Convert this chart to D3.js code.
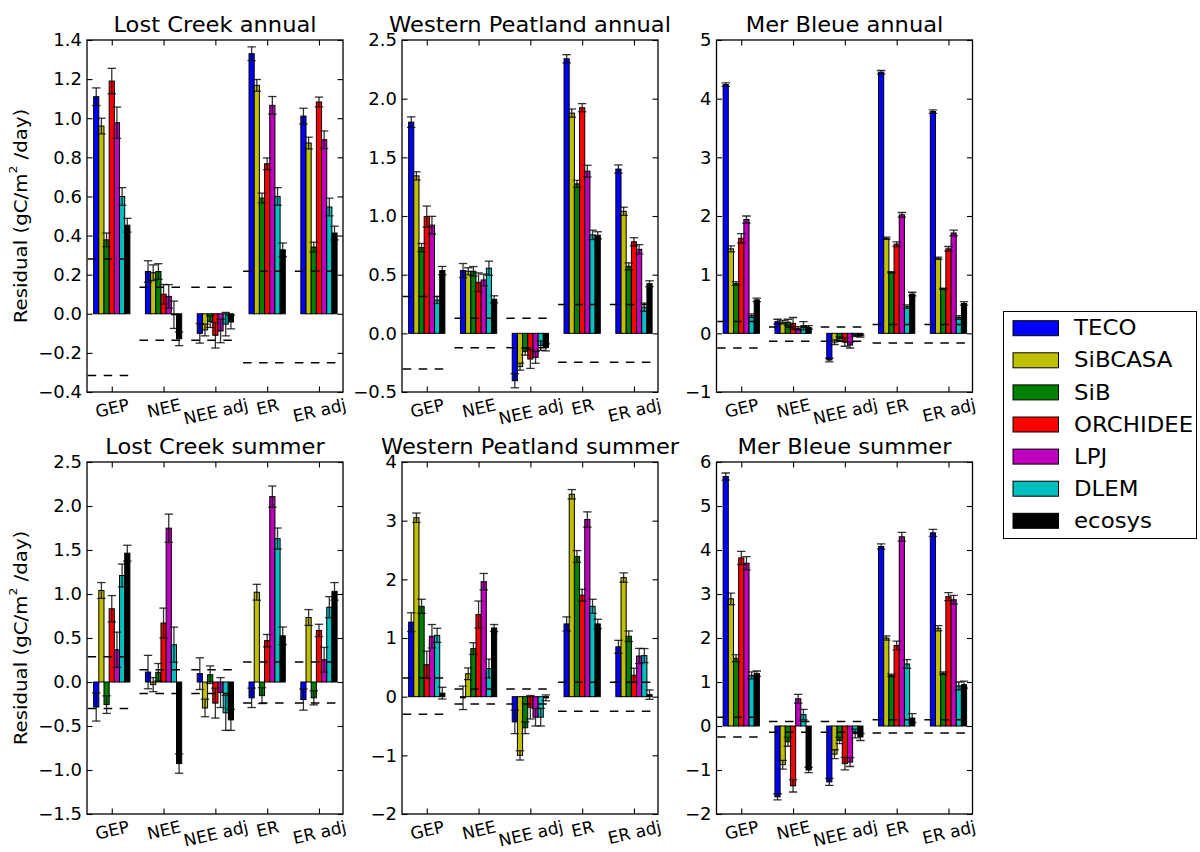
<!DOCTYPE html>
<html><head><meta charset="utf-8">
<script src="https://cdn.jsdelivr.net/npm/d3@7"></script>
<style>
body{margin:0;background:#fff}
svg{display:block}
text{font-family:"DejaVu Sans",sans-serif;fill:#000}
</style>
</head><body>
<svg id="c" width="1200" height="852"></svg>
<script>
// ---------- data ----------
const categories = ["GEP", "NEE", "NEE adj", "ER", "ER adj"];
const models = ["TECO", "SiBCASA", "SiB", "ORCHIDEE", "LPJ", "DLEM", "ecosys"];
const modelColors = ["#0000ff", "#bfbf00", "#008000", "#ff0000", "#bf00bf", "#00bfbf", "#000000"];
const panelTitles = ["Lost Creek annual", "Western Peatland annual", "Mer Bleue annual",
                     "Lost Creek summer", "Western Peatland summer", "Mer Bleue summer"];
const yLabelText = ["Residual (gC/m", "2", " /day)"];

// rows = models, columns = categories
const lcAnnualVals = [
  [1.11, 0.216, -0.100, 1.330, 1.011],
  [0.96, 0.210, -0.083, 1.168, 0.873],
  [0.378, 0.216, -0.040, 0.592, 0.341],
  [1.19, 0.100, -0.110, 0.767, 1.083],
  [0.977, 0.089, -0.088, 1.066, 0.890],
  [0.600, -0.005, -0.053, 0.600, 0.546],
  [0.453, -0.128, -0.042, 0.327, 0.413]
];
const lcAnnualErr = [
  [0.045, 0.055, 0.050, 0.035, 0.040],
  [0.040, 0.040, 0.030, 0.030, 0.030],
  [0.035, 0.040, 0.030, 0.025, 0.025],
  [0.065, 0.050, 0.065, 0.030, 0.025],
  [0.080, 0.060, 0.060, 0.045, 0.045],
  [0.045, 0.070, 0.060, 0.045, 0.045],
  [0.035, 0.035, 0.035, 0.035, 0.035]
];
const lcAnnualBands = [[0.280, -0.315], [0.136, -0.136], [0.136, -0.136], [0.218, -0.250], [0.218, -0.250]];
const lcAnnualTicks = ["\u22120.4", "\u22120.2", "0.0", "0.2", "0.4", "0.6", "0.8", "1.0", "1.2", "1.4"];

const wpAnnualVals = [
  [1.800, 0.535, -0.404, 2.340, 1.400],
  [1.342, 0.529, -0.284, 1.877, 1.040],
  [0.731, 0.529, -0.156, 1.274, 0.571],
  [0.995, 0.435, -0.219, 1.923, 0.780],
  [0.922, 0.455, -0.205, 1.382, 0.716],
  [0.284, 0.555, -0.105, 0.839, 0.223],
  [0.535, 0.290, -0.120, 0.836, 0.423]
];
const wpAnnualErr = [
  [0.045, 0.060, 0.060, 0.035, 0.035],
  [0.035, 0.030, 0.030, 0.035, 0.035],
  [0.035, 0.040, 0.030, 0.030, 0.030],
  [0.090, 0.080, 0.080, 0.035, 0.035],
  [0.075, 0.050, 0.050, 0.050, 0.040],
  [0.030, 0.060, 0.040, 0.040, 0.035],
  [0.035, 0.030, 0.030, 0.030, 0.025]
];
const wpAnnualBands = [[0.313, -0.304], [0.128, -0.122], [0.128, -0.122], [0.245, -0.247], [0.245, -0.247]];
const wpAnnualTicks = ["\u22120.5", "0.0", "0.5", "1.0", "1.5", "2.0", "2.5"];

const mbAnnualVals = [
  [4.24, 0.20, -0.455, 4.45, 3.78],
  [1.44, 0.19, -0.150, 1.62, 1.28],
  [0.85, 0.19, -0.090, 1.04, 0.76],
  [1.62, 0.17, -0.150, 1.52, 1.44],
  [1.94, 0.085, -0.200, 2.02, 1.71],
  [0.30, 0.13, -0.035, 0.455, 0.27],
  [0.57, 0.10, -0.045, 0.67, 0.51]
];
const mbAnnualErr = [
  [0.03, 0.04, 0.03, 0.03, 0.03],
  [0.05, 0.03, 0.04, 0.02, 0.02],
  [0.03, 0.05, 0.03, 0.01, 0.01],
  [0.08, 0.10, 0.07, 0.04, 0.04],
  [0.06, 0.03, 0.05, 0.04, 0.05],
  [0.03, 0.07, 0.02, 0.03, 0.03],
  [0.03, 0.03, 0.02, 0.03, 0.03]
];
const mbAnnualBands = [[0.20, -0.25], [0.11, -0.135], [0.11, -0.135], [0.15, -0.165], [0.15, -0.165]];
const mbAnnualTicks = ["\u22121", "0", "1", "2", "3", "4", "5"];

const lcSummerVals = [
  [-0.284, 0.113, 0.095, -0.180, -0.200],
  [1.040, -0.030, -0.295, 1.020, 0.733],
  [-0.257, 0.110, 0.083, -0.155, -0.180],
  [0.832, 0.670, -0.240, 0.470, 0.586],
  [0.367, 1.748, -0.120, 2.107, 0.253],
  [1.210, 0.424, -0.350, 1.630, 0.850],
  [1.464, -0.927, -0.430, 0.525, 1.030]
];
const lcSummerErr = [
  [0.16, 0.19, 0.18, 0.11, 0.12],
  [0.09, 0.08, 0.10, 0.09, 0.09],
  [0.10, 0.10, 0.10, 0.09, 0.08],
  [0.15, 0.17, 0.17, 0.07, 0.07],
  [0.20, 0.16, 0.17, 0.12, 0.14],
  [0.13, 0.20, 0.20, 0.12, 0.12],
  [0.09, 0.11, 0.12, 0.10, 0.10]
];
const lcSummerBands = [[0.287, -0.30], [0.14, -0.13], [0.14, -0.13], [0.227, -0.24], [0.227, -0.24]];
const lcSummerTicks = ["\u22121.5", "\u22121.0", "\u22120.5", "0.0", "0.5", "1.0", "1.5", "2.0", "2.5"];

const wpSummerVals = [
  [1.270, -0.020, -0.430, 1.240, 0.850],
  [3.050, 0.390, -1.000, 3.450, 2.030],
  [1.540, 0.820, -0.530, 2.390, 1.030],
  [0.545, 1.400, -0.180, 1.730, 0.365],
  [1.030, 1.960, -0.350, 3.020, 0.693],
  [1.045, 0.480, -0.350, 1.540, 0.700],
  [0.060, 1.170, -0.020, 1.240, 0.035]
];
const wpSummerErr = [
  [0.16, 0.20, 0.20, 0.12, 0.11],
  [0.08, 0.10, 0.08, 0.08, 0.08],
  [0.12, 0.10, 0.10, 0.10, 0.09],
  [0.23, 0.23, 0.20, 0.10, 0.12],
  [0.20, 0.14, 0.15, 0.13, 0.13],
  [0.12, 0.16, 0.15, 0.12, 0.12],
  [0.10, 0.06, 0.05, 0.08, 0.08]
];
const wpSummerBands = [[0.32, -0.30], [0.13, -0.125], [0.13, -0.125], [0.245, -0.25], [0.245, -0.25]];
const wpSummerTicks = ["\u22122", "\u22121", "0", "1", "2", "3", "4"];

const mbSummerVals = [
  [5.67, -1.61, -1.270, 4.08, 4.39],
  [2.89, -0.88, -0.640, 2.00, 2.22],
  [1.54, -0.36, -0.330, 1.15, 1.20],
  [3.82, -1.36, -0.855, 1.83, 2.94],
  [3.70, 0.62, -0.820, 4.30, 2.87],
  [1.15, 0.26, -0.170, 1.41, 0.91],
  [1.19, -1.00, -0.250, 0.18, 0.94]
];
const mbSummerErr = [
  [0.08, 0.07, 0.08, 0.06, 0.08],
  [0.13, 0.10, 0.10, 0.05, 0.06],
  [0.08, 0.10, 0.07, 0.03, 0.03],
  [0.15, 0.14, 0.14, 0.10, 0.09],
  [0.15, 0.10, 0.10, 0.10, 0.10],
  [0.08, 0.12, 0.10, 0.10, 0.09],
  [0.06, 0.06, 0.08, 0.10, 0.08]
];
const mbSummerBands = [[0.20, -0.25], [0.105, -0.14], [0.105, -0.14], [0.14, -0.16], [0.14, -0.16]];
const mbSummerTicks = ["\u22122", "\u22121", "0", "1", "2", "3", "4", "5", "6"];

// ---------- layout ----------
const panels = [
  {title: panelTitles[0], vals: lcAnnualVals, errs: lcAnnualErr, bands: lcAnnualBands, ticks: lcAnnualTicks, col: 0, row: 0},
  {title: panelTitles[1], vals: wpAnnualVals, errs: wpAnnualErr, bands: wpAnnualBands, ticks: wpAnnualTicks, col: 1, row: 0},
  {title: panelTitles[2], vals: mbAnnualVals, errs: mbAnnualErr, bands: mbAnnualBands, ticks: mbAnnualTicks, col: 2, row: 0},
  {title: panelTitles[3], vals: lcSummerVals, errs: lcSummerErr, bands: lcSummerBands, ticks: lcSummerTicks, col: 0, row: 1},
  {title: panelTitles[4], vals: wpSummerVals, errs: wpSummerErr, bands: wpSummerBands, ticks: wpSummerTicks, col: 1, row: 1},
  {title: panelTitles[5], vals: mbSummerVals, errs: mbSummerErr, bands: mbSummerBands, ticks: mbSummerTicks, col: 2, row: 1}
];

const PW = 256, PH = 352;
const lefts = [87, 402, 716.5], tops = [40, 462];
const BW = 0.1, DASH_L = -0.465, DASH_R = 0.41;
const TICK = 5.5, CAP = 4.2;
const ROT = 13;
const SX = {title: 1.075, tick: 1.06, xlab: 1.0, ylab: 1.13, legend: 1.09};

const svg = d3.select("#c");
svg.append("rect").attr("width", 1200).attr("height", 852).attr("fill", "#fff");

panels.forEach((p, pi) => {
  const L = lefts[p.col], T = tops[p.row];
  const tickVals = p.ticks.map(t => +t.replace("\u2212", "-"));
  const y = d3.scaleLinear().domain([tickVals[0], tickVals[tickVals.length - 1]]).range([T + PH, T]);
  const x = d3.scaleLinear().domain([-0.478, 4.464]).range([L, L + PW]);
  const g = svg.append("g");

  const clipId = "clip" + pi;
  svg.append("clipPath").attr("id", clipId).append("rect")
    .attr("x", L).attr("y", T).attr("width", PW).attr("height", PH);

  const items = [];
  models.forEach((m, j) => categories.forEach((c, i) => {
    items.push({i, j, v: p.vals[j][i], e: p.errs[j][i]});
  }));

  const plot = g.append("g").attr("clip-path", `url(#${clipId})`);
  // bars
  plot.selectAll("rect.bar").data(items).join("rect").attr("class", "bar")
    .attr("x", d => x(d.i + (d.j - 3.5) * BW))
    .attr("width", x(BW) - x(0))
    .attr("y", d => y(Math.max(d.v, 0)))
    .attr("height", d => Math.abs(y(d.v) - y(0)))
    .attr("fill", d => modelColors[d.j])
    .attr("stroke", "#000").attr("stroke-width", 1);

  // error bars
  const eb = plot.selectAll("g.eb").data(items).join("g").attr("class", "eb")
    .attr("stroke", "#000").attr("stroke-width", 1.3).attr("stroke-opacity", 0.8);
  eb.append("line")
    .attr("x1", d => x(d.i + (d.j - 3) * BW)).attr("x2", d => x(d.i + (d.j - 3) * BW))
    .attr("y1", d => y(d.v - d.e)).attr("y2", d => y(d.v + d.e));
  eb.append("line")
    .attr("x1", d => x(d.i + (d.j - 3) * BW) - CAP).attr("x2", d => x(d.i + (d.j - 3) * BW) + CAP)
    .attr("y1", d => y(d.v + d.e)).attr("y2", d => y(d.v + d.e));
  eb.append("line")
    .attr("x1", d => x(d.i + (d.j - 3) * BW) - CAP).attr("x2", d => x(d.i + (d.j - 3) * BW) + CAP)
    .attr("y1", d => y(d.v - d.e)).attr("y2", d => y(d.v - d.e));

  // dashed reference lines
  const bandLines = [];
  p.bands.forEach((b, i) => b.forEach(v => bandLines.push({i, v})));
  plot.selectAll("line.band").data(bandLines).join("line").attr("class", "band")
    .attr("x1", d => x(d.i + DASH_L)).attr("x2", d => x(d.i + DASH_R))
    .attr("y1", d => y(d.v)).attr("y2", d => y(d.v))
    .attr("stroke", "#000").attr("stroke-width", 1.5).attr("stroke-dasharray", "8.5,7.5");

  // axes
  const yl = g.append("g").attr("transform", `translate(${L},0)`)
    .call(d3.axisLeft(y).tickValues(tickVals).tickFormat((d, k) => p.ticks[k])
      .tickSizeInner(-TICK).tickSizeOuter(0).tickPadding(5));
  const yr = g.append("g").attr("transform", `translate(${L + PW},0)`)
    .call(d3.axisRight(y).tickValues(tickVals).tickFormat("").tickSizeInner(-TICK).tickSizeOuter(0));
  const xb = g.append("g").attr("transform", `translate(0,${T + PH})`)
    .call(d3.axisBottom(x).tickValues([0, 1, 2, 3, 4]).tickFormat((d, k) => categories[k])
      .tickSizeInner(-TICK).tickSizeOuter(0));
  const xt = g.append("g").attr("transform", `translate(0,${T})`)
    .call(d3.axisTop(x).tickValues([0, 1, 2, 3, 4]).tickFormat("").tickSizeInner(-TICK).tickSizeOuter(0));
  [yl, yr, xb, xt].forEach(a => {
    a.select(".domain").remove();
    a.selectAll("line").attr("stroke", "#000").attr("stroke-width", 1.1);
    a.attr("font-family", null).attr("font-size", null);
  });
  yl.selectAll("text").attr("font-size", 17).attr("fill", "#000").attr("dy", null)
    .attr("dominant-baseline", "central").attr("x", 0)
    .attr("transform", `translate(-5,0) scale(${SX.tick},1)`);
  const sa = Math.sin(ROT * Math.PI / 180), ca = Math.cos(ROT * Math.PI / 180);
  xb.selectAll("text").attr("font-size", 17).attr("fill", "#000").attr("dy", null)
    .attr("dominant-baseline", "central")
    .each(function () {
      const w = this.getComputedTextLength() * SX.xlab;
      const cy = 4 + (w * sa + 17 * ca) / 2;
      d3.select(this).attr("y", 0).attr("x", 0)
        .attr("transform", `translate(0,${cy}) rotate(${-ROT}) scale(${SX.xlab},1)`);
    });

  // frame
  g.append("rect").attr("x", L).attr("y", T).attr("width", PW).attr("height", PH)
    .attr("fill", "none").attr("stroke", "#000").attr("stroke-width", 1.3);

  // title
  g.append("text").attr("transform", `translate(${L + PW / 2},${T - 8}) scale(${SX.title},1)`)
    .attr("text-anchor", "middle").attr("font-size", 21).text(p.title);

  // y label
  if (p.col === 0) {
    const t = g.append("text")
      .attr("transform", `translate(20,${T + PH / 2}) rotate(-90) scale(${SX.ylab},1)`)
      .attr("text-anchor", "middle").attr("dominant-baseline", "central").attr("font-size", 17.5);
    t.append("tspan").text(yLabelText[0]);
    t.append("tspan").attr("font-size", 11).attr("dy", -7).text(yLabelText[1]);
    t.append("tspan").attr("dy", 7).text(yLabelText[2]);
  }
});

// ---------- legend ----------
const lg = svg.append("g");
lg.append("rect").attr("x", 1003.5).attr("y", 311.5).attr("width", 193).attr("height", 227)
  .attr("fill", "#fff").attr("stroke", "#000").attr("stroke-width", 1);
const ly = d3.scalePoint().domain(models).range([328.2, 520.8]);
lg.selectAll("rect.sw").data(models).join("rect").attr("class", "sw")
  .attr("x", 1013).attr("y", d => ly(d) - 7.5).attr("width", 45.5).attr("height", 15)
  .attr("fill", (d, k) => modelColors[k]).attr("stroke", "#000").attr("stroke-width", 1);
lg.selectAll("text.lt").data(models).join("text").attr("class", "lt")
  .attr("transform", d => `translate(1074,${ly(d)}) scale(${SX.legend},1)`)
  .attr("dominant-baseline", "central")
  .attr("font-size", 21).text(d => d);
</script>
</body></html>
